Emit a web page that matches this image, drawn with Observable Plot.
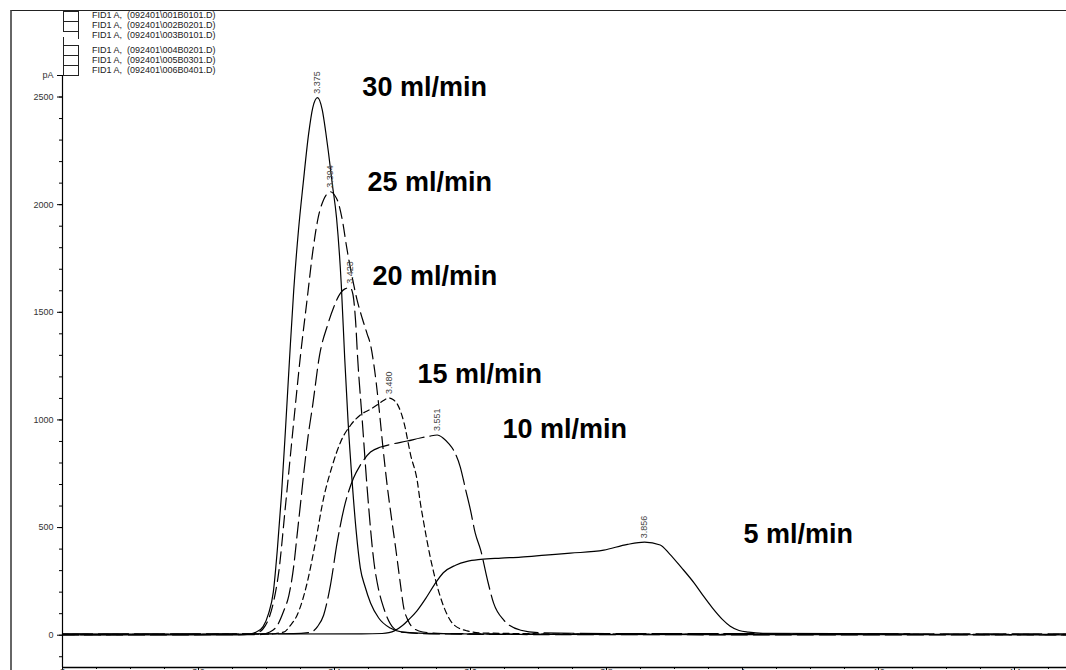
<!DOCTYPE html>
<html><head><meta charset="utf-8">
<script src="https://cdn.jsdelivr.net/npm/d3@7"></script>
<script src="https://cdn.jsdelivr.net/npm/@observablehq/plot@0.6"></script>
<style>
html,body{margin:0;padding:0;background:#fff;overflow:hidden}
#wrap{position:relative;width:1066px;height:670px;font-family:"Liberation Sans",Arial,sans-serif;overflow:hidden}
#wrap svg{position:absolute;left:0;top:0}
#frame{position:absolute;left:10px;top:10px;width:1070px;height:680px;border-left:2px solid #666;border-top:1.5px solid #222;box-sizing:border-box;pointer-events:none}
.lg-box{position:absolute;left:63px;width:16px;border:1.2px solid #222;box-sizing:border-box;background:#fff}
.lg-stub{position:absolute;width:0;border-left:1.2px solid #222}
.lg-text{position:absolute;left:92px;font-size:9px;line-height:10px;color:#222;white-space:pre}
</style></head><body><div id="wrap"></div>
<script>
// ---- data ----
const flowLabels = ["30 ml/min", "25 ml/min", "20 ml/min", "15 ml/min", "10 ml/min", "5 ml/min"];
const flowLabelTime = [3.441, 3.4485, 3.456, 3.522, 3.647, 4.0015];
const flowLabelPA = [2506, 2065, 1628, 1172, 916, 428];
const peakTimes = [3.375, 3.394, 3.423, 3.480, 3.551, 3.856];
const peakPA = [2497, 2060, 1614, 1102, 930, 432];
const legendLabels = [
  "FID1 A,  (092401\\001B0101.D)",
  "FID1 A,  (092401\\002B0201.D)",
  "FID1 A,  (092401\\003B0101.D)",
  "FID1 A,  (092401\\004B0201.D)",
  "FID1 A,  (092401\\005B0301.D)",
  "FID1 A,  (092401\\006B0401.D)"
];
const xMajorTicks = [3, 3.2, 3.4, 3.6, 3.8, 4, 4.2, 4.4];
const yMajorTicks = [0, 500, 1000, 1500, 2000, 2500, 2600];
const yUnit = "pA";
const xDomain = [3, 4.4765];
const yDomain = [-150, 2600];

// series: [retention time (min), signal (pA)]
const s30 = [[3.000,1],[3.260,2],[3.275,5],[3.285,15],[3.295,40],[3.303,100],[3.310,200],[3.316,400],[3.322,650],[3.328,960],[3.334,1290],[3.340,1600],[3.347,1880],[3.354,2100],[3.362,2330],[3.368,2450],[3.375,2497],[3.382,2440],[3.387,2340],[3.391,2246],[3.397,2090],[3.403,1939],[3.410,1628],[3.415,1288],[3.420,990],[3.426,711],[3.432,480],[3.438,312],[3.445,225],[3.453,150],[3.465,80],[3.482,33],[3.500,14],[3.550,7],[3.700,4],[4.476,2]];
const s25 = [[3.000,3],[3.270,4],[3.285,10],[3.295,30],[3.301,60],[3.310,150],[3.318,293],[3.328,604],[3.340,990],[3.350,1300],[3.360,1567],[3.368,1781],[3.376,1940],[3.384,2023],[3.389,2050],[3.394,2060],[3.400,2045],[3.406,2005],[3.412,1920],[3.418,1800],[3.425,1680],[3.433,1560],[3.441,1470],[3.448,1400],[3.453,1349],[3.458,1255],[3.465,1070],[3.471,880],[3.478,682],[3.484,540],[3.490,404],[3.496,260],[3.502,125],[3.508,70],[3.516,33],[3.530,15],[3.560,8],[3.700,5],[4.476,3]];
const s20 = [[3.000,1],[3.290,3],[3.305,15],[3.316,46],[3.325,110],[3.333,186],[3.340,320],[3.345,465],[3.350,610],[3.355,758],[3.361,920],[3.368,1070],[3.378,1300],[3.390,1442],[3.399,1525],[3.409,1590],[3.416,1610],[3.423,1614],[3.427,1585],[3.431,1460],[3.434,1290],[3.441,990],[3.448,684],[3.458,340],[3.465,210],[3.4725,125],[3.487,33],[3.500,14],[3.550,6],[3.700,3],[4.476,1]];
const s15 = [[3.000,4],[3.300,5],[3.325,14],[3.335,45],[3.345,93],[3.360,246],[3.372,432],[3.384,637],[3.397,790],[3.409,898],[3.424,977],[3.438,1023],[3.453,1050],[3.463,1070],[3.472,1090],[3.480,1102],[3.486,1095],[3.493,1070],[3.502,990],[3.512,837],[3.522,711],[3.526,620],[3.531,527],[3.541,360],[3.556,175],[3.575,50],[3.595,20],[3.620,10],[3.750,6],[4.476,4]];
const s10 = [[3.000,6],[3.340,7],[3.365,14],[3.375,40],[3.384,93],[3.394,232],[3.404,432],[3.414,590],[3.428,730],[3.438,790],[3.453,851],[3.468,874],[3.485,888],[3.507,902],[3.526,916],[3.540,925],[3.551,930],[3.560,915],[3.568,890],[3.575,860],[3.585,781],[3.593,674],[3.600,581],[3.607,474],[3.615,395],[3.625,256],[3.634,149],[3.649,70],[3.674,23],[3.700,12],[3.800,8],[4.476,6]];
const s5 = [[3.000,5],[3.440,6],[3.470,8],[3.480,12],[3.488,20],[3.500,45],[3.510,75],[3.521,112],[3.534,170],[3.547,235],[3.560,290],[3.578,325],[3.595,343],[3.615,352],[3.645,358],[3.674,363],[3.710,372],[3.747,381],[3.796,395],[3.831,422],[3.856,432],[3.879,419],[3.893,377],[3.910,315],[3.929,242],[3.943,180],[3.956,126],[3.970,75],[3.982,42],[3.995,22],[4.009,14],[4.030,9],[4.246,6]];

// ---- styles ----
const seriesList = [s30, s25, s20, s15, s10, s5];
const dashStyles = [null, "12,6", "16,6", "6,4", "30,6", null];

const rows = seriesList.flatMap((s, i) => s.map(([t, v]) => ({flow: flowLabels[i], t, v})));
const xMinorTicks = d3.range(3, 4.48, 0.05);
const yMinorTicks = d3.range(-100, 2601, 100);

const marks = [
  Plot.ruleX([xDomain[0]], {stroke: "#000", strokeWidth: 1.2}),
  Plot.ruleY([yDomain[0]], {stroke: "#000", strokeWidth: 1.5}),
  Plot.axisY(yMinorTicks, {tickSize: 3, tickFormat: () => "", label: null, stroke: "#000"}),
  Plot.axisY(yMajorTicks, {tickSize: 5, tickPadding: 4, label: null, stroke: "#000", fill: "#333",
    tickFormat: d => d === 2600 ? yUnit : String(d)}),
  Plot.axisX(xMinorTicks, {tickSize: 2, tickFormat: () => "", label: null, stroke: "#000"}),
  Plot.axisX(xMajorTicks, {tickSize: 3, tickPadding: -2, label: null, stroke: "#000", fill: "#333",
    tickFormat: d3.format("~g")})
];
flowLabels.forEach((f, i) => {
  marks.push(Plot.line(rows.filter(r => r.flow === f), {
    x: "t", y: "v", stroke: "#000", strokeWidth: 1.2, curve: "monotone-x",
    strokeDasharray: dashStyles[i] || undefined
  }));
});
marks.push(Plot.text(flowLabels, {
  x: (d, i) => flowLabelTime[i], y: (d, i) => flowLabelPA[i], text: d => d,
  textAnchor: "start", lineAnchor: "bottom", fontSize: 27, fontWeight: "bold", fill: "#000"
}));
marks.push(Plot.text(peakTimes, {
  x: d => d, y: (d, i) => peakPA[i], text: d => d.toFixed(3),
  rotate: -90, textAnchor: "start", dy: -4, fontSize: 9, fill: "#444"
}));

const chart = Plot.plot({
  width: 1066, height: 670,
  marginLeft: 62, marginRight: 0, marginTop: 75, marginBottom: 3,
  x: {domain: xDomain, axis: null},
  y: {domain: yDomain, axis: null},
  style: {fontFamily: "'Liberation Sans', Arial, sans-serif", fontSize: "9px", background: "transparent"},
  marks
});

const wrap = document.getElementById("wrap");
wrap.appendChild(chart);

// legend (stacked boxes + file labels)
const boxTops = [11, 21, null, 45, 55, 65];
const textTops = [10, 20, 30, 45, 55, 65];
legendLabels.forEach((lab, i) => {
  if (boxTops[i] !== null) {
    const b = document.createElement("div");
    b.className = "lg-box";
    b.style.top = boxTops[i] + "px";
    b.style.height = (i === 5 ? 11 : 11) + "px";
    wrap.appendChild(b);
  } else {
    const r = document.createElement("div");
    r.className = "lg-stub"; r.style.left = "78px"; r.style.top = "31px"; r.style.height = "8px";
    wrap.appendChild(r);
    const l = document.createElement("div");
    l.className = "lg-stub"; l.style.left = "63px"; l.style.top = "37px"; l.style.height = "8px";
    wrap.appendChild(l);
  }
  const t = document.createElement("div");
  t.className = "lg-text";
  t.style.top = textTops[i] + "px";
  t.textContent = lab;
  wrap.appendChild(t);
});
const frame = document.createElement("div");
frame.id = "frame";
wrap.appendChild(frame);
</script></body></html>
